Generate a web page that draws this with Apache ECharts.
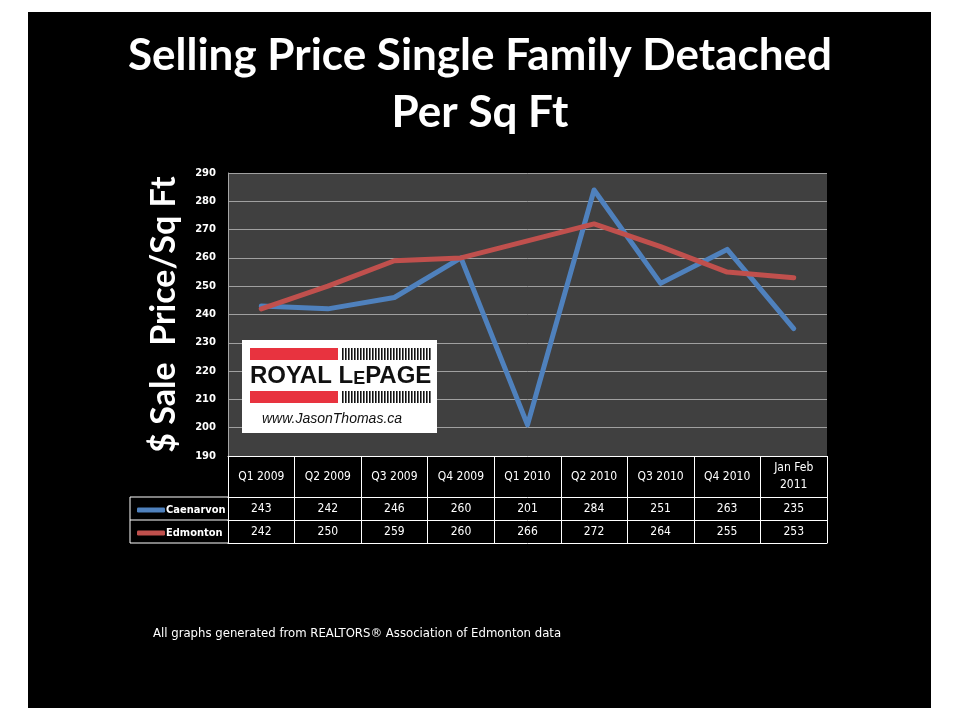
<!DOCTYPE html>
<html>
<head>
<meta charset="utf-8">
<script src="https://cdn.jsdelivr.net/npm/echarts@6/dist/echarts.min.js"></script>
<style>
html,body{margin:0;padding:0;background:#fff;}
#bg{position:absolute;left:28px;top:12px;width:903px;height:696px;background:#000;}
#chart{position:absolute;left:0;top:0;width:960px;height:720px;}
</style>
</head>
<body>
<div id="bg"></div>
<div id="chart"></div>
<script>
// ---- data ----
const categories = ['Q1 2009','Q2 2009','Q3 2009','Q4 2009','Q1 2010','Q2 2010','Q3 2010','Q4 2010','Jan Feb\n2011'];
const caenarvon = [243,242,246,260,201,284,251,263,235];
const edmonton  = [242,250,259,260,266,272,264,255,253];
const seriesNames = ['Caenarvon','Edmonton'];
const yMin = 190, yMax = 290, yStep = 10;

// ---- layout ----
const G = {left:228, top:173, right:827, bottom:456};
const rowTop = 41, row1 = 23, row2 = 23;
const narrow = '"DejaVu Sans Condensed", "Liberation Sans Narrow", "Liberation Sans", Arial, sans-serif';
const white = '#ffffff';
const titleFont = 'Lato, "Open Sans", sans-serif';

const chart = echarts.init(document.getElementById('chart'), null, {renderer:'canvas'});

const barcode = [];
for (let x = 342; x <= 430; x += 3) {
  barcode.push({type:'rect', shape:{x:x, y:348, width:1.6, height:12}, style:{fill:'#111'}, z:20});
  barcode.push({type:'rect', shape:{x:x, y:391, width:1.6, height:12}, style:{fill:'#111'}, z:20});
}

const tableLines = [];
[G.bottom+rowTop, G.bottom+rowTop+row1, G.bottom+rowTop+row1+row2].forEach(y=>{
  tableLines.push({type:'line', shape:{x1:130, y1:y, x2:G.left, y2:y}, style:{stroke:white, lineWidth:1}});
});
tableLines.push({type:'line', shape:{x1:130, y1:G.bottom+rowTop, x2:130, y2:G.bottom+rowTop+row1+row2}, style:{stroke:white, lineWidth:1}});

const baseX = {
  type:'category', data:categories, boundaryGap:true, gridIndex:0,
  axisPointer:{show:false}
};
const cellLabel = {color:white, fontFamily:narrow, fontSize:12, interval:0, verticalAlign:'middle'};

chart.setOption({
  backgroundColor:'transparent',
  animation:false,
  legend:{
    data:seriesNames, orient:'vertical', left:132, top:G.bottom+rowTop+1,
    itemWidth:28, itemHeight:5, itemGap:9, icon:'roundRect',
    textStyle:{color:white, fontFamily:narrow, fontWeight:'bold', fontSize:11, lineHeight:14, padding:[0,0,0,-4]},
    selectedMode:false
  },
  grid:{left:G.left, top:G.top, width:G.right-G.left, height:G.bottom-G.top, show:true, backgroundColor:'#404040', borderWidth:0, containLabel:false},
  xAxis:[
    Object.assign({}, baseX, {
      position:'bottom', offset:0,
      axisLine:{show:true, lineStyle:{color:white, width:1}},
      axisTick:{show:true, length:rowTop+row1+row2, lineStyle:{color:white, width:1}},
      axisLabel:Object.assign({}, cellLabel, {lineHeight:17, margin:rowTop/2})
    }),
    Object.assign({}, baseX, {
      position:'bottom', offset:rowTop,
      axisLine:{show:true, lineStyle:{color:white, width:1}},
      axisTick:{show:false},
      axisLabel:Object.assign({}, cellLabel, {margin:row1/2, formatter:(v,i)=>String(caenarvon[i])})
    }),
    Object.assign({}, baseX, {
      position:'bottom', offset:rowTop+row1,
      axisLine:{show:true, lineStyle:{color:white, width:1}},
      axisTick:{show:false},
      axisLabel:Object.assign({}, cellLabel, {margin:row2/2, formatter:(v,i)=>String(edmonton[i])})
    }),
    Object.assign({}, baseX, {
      position:'bottom', offset:rowTop+row1+row2,
      axisLine:{show:true, lineStyle:{color:white, width:1}},
      axisTick:{show:false}, axisLabel:{show:false}
    })
  ],
  yAxis:{
    type:'value', min:yMin, max:yMax, interval:yStep,
    name:'$ Sale  Price/Sq Ft', nameLocation:'middle', nameRotate:90, nameGap:47,
    nameTextStyle:{color:white, fontFamily:titleFont, fontWeight:'bold', fontSize:34},
    axisLine:{show:true, lineStyle:{color:'#a6a6a6', width:1}},
    axisTick:{show:false},
    axisLabel:{color:white, fontFamily:'"DejaVu Sans", Verdana, sans-serif', fontWeight:'bold', fontSize:10, margin:12},
    splitLine:{show:true, lineStyle:{color:'#a0a0a0', width:1}}
  },
  series:[
    {name:seriesNames[0], type:'line', data:caenarvon, xAxisIndex:0, showSymbol:false, symbol:'none',
      lineStyle:{color:'#4f81bd', width:5, cap:'round', join:'round'}, itemStyle:{color:'#4f81bd'}, z:3},
    {name:seriesNames[1], type:'line', data:edmonton, xAxisIndex:0, showSymbol:false, symbol:'none',
      lineStyle:{color:'#c0504d', width:5, cap:'round', join:'round'}, itemStyle:{color:'#c0504d'}, z:4}
  ],
  graphic:[
    {type:'text', x:480, y:56, style:{text:'Selling Price Single Family Detached', fill:white, fontFamily:titleFont, fontWeight:'bold', fontSize:44, align:'center', verticalAlign:'middle'}},
    {type:'text', x:480, y:113, style:{text:'Per Sq Ft', fill:white, fontFamily:titleFont, fontWeight:'bold', fontSize:44, align:'center', verticalAlign:'middle'}},
    ...tableLines,
    {type:'rect', shape:{x:242, y:340, width:195, height:93}, style:{fill:'#fff'}, z:10},
    {type:'rect', shape:{x:250, y:348, width:88, height:12}, style:{fill:'#e8333f'}, z:20},
    {type:'rect', shape:{x:250, y:391, width:88, height:12}, style:{fill:'#e8333f'}, z:20},
    ...barcode,
    {type:'text', x:250, y:376, z:20, style:{
      text:'{a|ROYAL L}{b|E}{a|PAGE}', verticalAlign:'middle',
      rich:{a:{fontFamily:'"Liberation Sans", Arial, sans-serif', fontWeight:'bold', fontSize:24, fill:'#111', verticalAlign:'bottom'},
            b:{fontFamily:'"Liberation Sans", Arial, sans-serif', fontWeight:'bold', fontSize:18, fill:'#111', verticalAlign:'bottom'}}
    }},
    {type:'text', x:262, y:419, z:20, style:{
      text:'www.JasonThomas.ca', fill:'#111', fontFamily:'"Liberation Sans", Arial, sans-serif', fontStyle:'italic', fontSize:14, verticalAlign:'middle'
    }},
    {type:'text', x:153, y:634, style:{
      text:'All graphs generated from REALTORS® Association of Edmonton data', fill:white, fontFamily:narrow, fontSize:13, verticalAlign:'middle'
    }}
  ]
});
</script>
</body>
</html>
